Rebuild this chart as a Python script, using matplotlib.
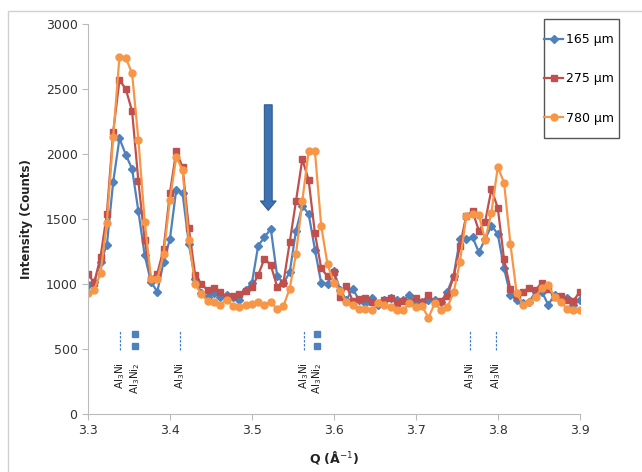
import numpy as np
import matplotlib
matplotlib.use('Agg')
import matplotlib.pyplot as plt
import matplotlib.patches as mpatches

# scan grid (Q, 1/A) - 79 steps from 3.3 to 3.9
q = np.linspace(3.3, 3.9, 79)

i_165 = [990, 1015, 1170, 1300, 1785, 2120, 1995, 1885, 1560, 1220,
         1015, 940, 1170, 1345, 1725, 1700, 1310, 1035, 930, 900,
         930, 900, 915, 900, 875, 955, 1005, 1295, 1360, 1425,
         1065, 1005, 1090, 1410, 1600, 1540, 1265, 1005, 1000, 1100,
         955, 875, 965, 875, 850, 890, 840, 875, 890, 875,
         875, 915, 840, 865, 875, 875, 865, 940, 1065, 1345,
         1345, 1360, 1245, 1345, 1450, 1385, 1120, 915, 875, 850,
         865, 940, 940, 840, 915, 875, 890, 840, 875]

i_275 = [1075, 1010, 1210, 1540, 2170, 2570, 2500, 2330, 1790, 1340,
         1040, 1080, 1270, 1700, 2020, 1900, 1430, 1070, 1000, 950,
         970, 935, 900, 905, 920, 945, 975, 1070, 1195, 1145,
         980, 1010, 1320, 1640, 1960, 1800, 1390, 1120, 1060, 1090,
         900, 985, 870, 885, 890, 860, 850, 880, 895, 850,
         870, 860, 895, 860, 915, 860, 870, 910, 1055, 1290,
         1525, 1560, 1410, 1480, 1730, 1585, 1190, 960, 905, 940,
         970, 955, 1010, 960, 900, 905, 880, 870, 940]

i_780 = [930, 955, 1085, 1470, 2130, 2750, 2740, 2620, 2110, 1480,
         1040, 1035, 1230, 1650, 1975, 1880, 1340, 1000, 920, 870,
         860, 840, 880, 830, 820, 840, 845, 860, 840, 860,
         805, 830, 965, 1230, 1640, 2020, 2020, 1445, 1150, 1010,
         945, 860, 840, 810, 810, 800, 850, 840, 820, 800,
         800, 850, 820, 830, 740, 850, 800, 820, 935, 1170,
         1520, 1535, 1530, 1340, 1550, 1900, 1780, 1310, 930, 840,
         860, 900, 970, 990, 900, 860, 810, 800, 800]

# reference phase positions
phase_q = [3.339, 3.357, 3.412, 3.564, 3.580, 3.766, 3.798]
phase_names = ['Al$_3$Ni', 'Al$_3$Ni$_2$', 'Al$_3$Ni', 'Al$_3$Ni', 'Al$_3$Ni$_2$',
               'Al$_3$Ni', 'Al$_3$Ni']

series = [
    ('165 µm', i_165, '#4F81BD', 'D', 4.5),
    ('275 µm', i_275, '#C0504D', 's', 5),
    ('780 µm', i_780, '#F79646', 'o', 5),
]

fig = plt.figure(figsize=(6.42, 4.72), dpi=100)
ax = fig.add_axes([0.137, 0.123, 0.766, 0.826])

for label, vals, col, mk, ms in series:
    ax.plot(q, vals, color=col, marker=mk, markersize=ms, linewidth=1.6,
            label=label)

# phase markers
for pq, name in zip(phase_q, phase_names):
    if 'Ni$_2$' in name:
        ax.plot([pq, pq], [520, 615], linestyle='none', marker='s',
                markersize=4.5, color='#4F81BD')
    else:
        ax.plot([pq, pq], [490, 640], linestyle=(0, (2, 1.2)), linewidth=0.9,
                color='#4F81BD')
    ax.text(pq, 400, name, rotation=90, ha='center', va='top', fontsize=7.5,
            color='#222222')

# arrow pointing to the extra peak
ax.annotate('', xy=(3.52, 1545), xytext=(3.52, 2400),
            arrowprops=dict(arrowstyle='simple,head_length=0.9,head_width=1.5,tail_width=0.75',
                            mutation_scale=7.5, fc='#3F72B0', ec='#2E5A8E', lw=0.8))

ax.set_xlim(3.3, 3.9)
ax.set_ylim(0, 3000)
ax.set_xticks([3.3, 3.4, 3.5, 3.6, 3.7, 3.8, 3.9])
ax.set_yticks([0, 500, 1000, 1500, 2000, 2500, 3000])
for s in ['top', 'right']:
    ax.spines[s].set_visible(False)
for s in ['left', 'bottom']:
    ax.spines[s].set_color('#BBBBBB')
ax.tick_params(colors='#BBBBBB', labelcolor='#333333', labelsize=9, length=4)
ax.set_xlabel('Q (Å$^{-1}$)', fontsize=9, fontweight='bold', color='#222222')
ax.set_ylabel('Intensity (Counts)', fontsize=8.5, fontweight='bold', color='#222222')
ax.xaxis.set_label_coords(0.5, -0.09)
ax.yaxis.set_label_coords(-0.112, 0.5)

leg = fig.legend(loc='upper left', bbox_to_anchor=(0.848, 0.93), fontsize=9,
                 labelspacing=2.1, handlelength=1.5, handletextpad=0.2,
                 borderpad=0.0, borderaxespad=0.0, frameon=False)

# legend frame drawn by hand (tight at the sides, roomy top/bottom)
fig.patches.append(mpatches.Rectangle((0.847, 0.708), 0.117, 0.252, transform=fig.transFigure,
                                      fill=False, ec='#555555', lw=1.0))

# chart area border
fig.patches.append(mpatches.Rectangle((0.013, -0.01), 1.0, 0.987, transform=fig.transFigure,
                                      fill=False, ec='#D0D0D0', lw=1.0))

fig.savefig('out.png', dpi=100)
